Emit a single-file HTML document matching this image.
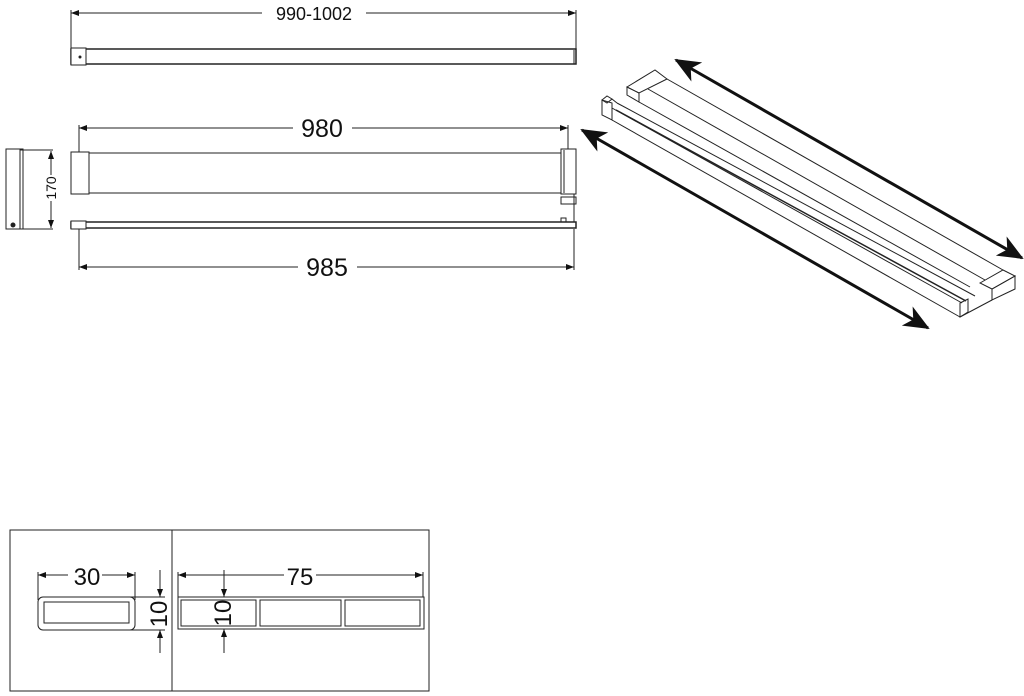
<!DOCTYPE html>
<html><head><meta charset="utf-8"><style>body{margin:0;background:#fff}svg{display:block}text{font-family:"Liberation Sans",sans-serif;fill:#111}</style></head><body>
<svg width="1024" height="696" viewBox="0 0 1024 696" xmlns="http://www.w3.org/2000/svg">
<defs>
<marker id="a" markerWidth="8" markerHeight="6" refX="8" refY="3" orient="auto-start-reverse" markerUnits="userSpaceOnUse"><path d="M0,0 L8,3 L0,6z" fill="#111"/></marker>
<marker id="b" markerWidth="26" markerHeight="22" refX="24" refY="11" orient="auto-start-reverse" markerUnits="userSpaceOnUse"><path d="M0,0 L26,11 L0,22 L7,11z" fill="#111"/></marker>
</defs>
<g stroke="#222" fill="none" stroke-width="1">
<line x1="71" y1="13" x2="262" y2="13" marker-start="url(#a)"/><line x1="366" y1="13" x2="576" y2="13" marker-end="url(#a)"/>
<line x1="71" y1="10" x2="71" y2="50"/><line x1="576" y1="10" x2="576" y2="50"/>
<rect x="71" y="49" width="505" height="15" stroke-width="1.5"/><rect x="71" y="48" width="15" height="17" fill="#fff"/><circle cx="80" cy="57" r="1" fill="#222"/>
<line x1="574" y1="50" x2="574" y2="64"/>
<line x1="79" y1="128" x2="293" y2="128" marker-start="url(#a)"/><line x1="352" y1="128" x2="568" y2="128" marker-end="url(#a)"/>
<line x1="79" y1="125" x2="79" y2="152"/><line x1="568" y1="125" x2="568" y2="150"/>
<rect x="71" y="153" width="505" height="40"/><rect x="71" y="152" width="18" height="42" fill="#fff"/><rect x="561" y="149" width="15" height="45" fill="#fff"/>
<line x1="564" y1="150" x2="564" y2="193"/>
<rect x="561" y="197" width="15" height="7"/><rect x="561" y="218" width="5" height="4"/><line x1="574" y1="194" x2="574" y2="222"/>
<rect x="71" y="222" width="505" height="6" stroke-width="1.5"/><rect x="71" y="221" width="15" height="8" fill="#fff"/>
<line x1="79" y1="267" x2="298" y2="267" marker-start="url(#a)"/><line x1="357" y1="267" x2="574" y2="267" marker-end="url(#a)"/>
<line x1="79" y1="229" x2="79" y2="270"/><line x1="574" y1="229" x2="574" y2="270"/>
<rect x="6" y="149" width="17" height="80"/><line x1="20" y1="149" x2="20" y2="229"/><circle cx="13" cy="225" r="2" fill="#222"/>
<line x1="51" y1="151" x2="51" y2="175" marker-start="url(#a)"/><line x1="51" y1="201" x2="51" y2="228" marker-end="url(#a)"/>
<line x1="20" y1="150" x2="53" y2="150"/><line x1="20" y1="229" x2="53" y2="229"/>
<polygon points="627,87 655,70 667,79 639,93"/><polygon points="627,87 627,95 639,102 639,93"/>
<line x1="667" y1="79" x2="1003" y2="270"/><line x1="639" y1="102" x2="970" y2="287"/><line x1="648" y1="89" x2="985" y2="280"/>
<polygon points="980,283 1003,270 1015,276 992,289"/><polygon points="992,289 1015,276 1015,289 992,300"/>
<polygon points="602,100 607,96 612,99 607,103"/><polygon points="602,100 602,115 612,120 612,103"/><line x1="612" y1="99" x2="617" y2="103"/>
<line x1="617" y1="103" x2="975" y2="296"/><line x1="612" y1="108" x2="962" y2="303"/><line x1="612" y1="120" x2="960" y2="317"/><line x1="616" y1="110" x2="966" y2="301" stroke-width="1.5"/>
<polygon points="960,303 968,299 968,312 960,317"/><line x1="960" y1="317" x2="992" y2="300"/>
</g>
<g stroke="#111" stroke-width="3" fill="none">
<line x1="676" y1="60" x2="1022" y2="258" marker-start="url(#b)" marker-end="url(#b)"/>
<line x1="582" y1="130" x2="928" y2="328" marker-start="url(#b)" marker-end="url(#b)"/>
</g>
<text x="314" y="20" font-size="18" text-anchor="middle">990-1002</text>
<text x="322" y="137" font-size="25" text-anchor="middle">980</text>
<text x="327" y="276" font-size="25" text-anchor="middle">985</text>
<text transform="translate(56,188) rotate(-90)" font-size="14" text-anchor="middle">170</text>
<g stroke="#222" fill="none" stroke-width="1">
<rect x="10" y="530" width="419" height="161"/><line x1="172" y1="530" x2="172" y2="691"/>
<rect x="38" y="597" width="97" height="33" rx="5"/><rect x="44" y="602" width="85" height="21"/>
<line x1="38" y1="575" x2="68" y2="575" marker-start="url(#a)"/><line x1="102" y1="575" x2="135" y2="575" marker-end="url(#a)"/>
<line x1="38" y1="572" x2="38" y2="600"/><line x1="135" y1="572" x2="135" y2="600"/>
<line x1="130" y1="597" x2="165" y2="597"/><line x1="130" y1="630" x2="165" y2="630"/>
<line x1="160" y1="570" x2="160" y2="597" marker-end="url(#a)"/><line x1="160" y1="653" x2="160" y2="630" marker-end="url(#a)"/>
<rect x="178" y="597" width="246" height="32"/>
<rect x="181" y="600" width="75" height="26"/><rect x="260" y="600" width="81" height="26"/><rect x="345" y="600" width="75" height="26"/>
<line x1="178" y1="575" x2="284" y2="575" marker-start="url(#a)"/><line x1="316" y1="575" x2="423" y2="575" marker-end="url(#a)"/>
<line x1="178" y1="572" x2="178" y2="597"/><line x1="423" y1="572" x2="423" y2="597"/>
<line x1="224" y1="570" x2="224" y2="597" marker-end="url(#a)"/><line x1="224" y1="653" x2="224" y2="629" marker-end="url(#a)"/>
</g>
<text x="87" y="585" font-size="24" text-anchor="middle">30</text>
<text x="300" y="585" font-size="24" text-anchor="middle">75</text>
<text transform="translate(167,614) rotate(-90)" font-size="24" text-anchor="middle">10</text>
<text transform="translate(231,613) rotate(-90)" font-size="24" text-anchor="middle">10</text>
</svg>
</body></html>
